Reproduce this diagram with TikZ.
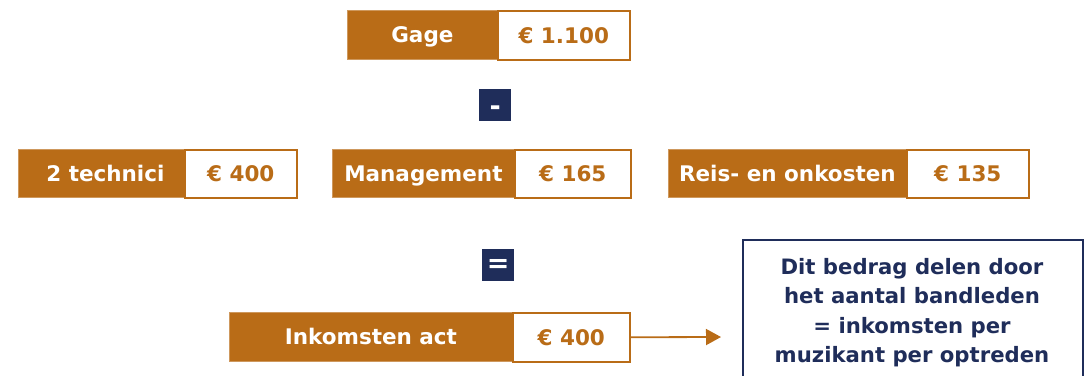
\documentclass[tikz,border=0pt]{standalone}
\usepackage{fontspec}
\setmainfont{DejaVu Sans}
\usetikzlibrary{arrows.meta}
\definecolor{orng}{HTML}{B96C17}
\definecolor{navy}{HTML}{1F2D5A}
\tikzset{
  boxfont/.style={font=\bfseries\fontsize{21.5}{26}\selectfont, text height=16pt, text depth=0pt},
  lbl/.style={rectangle, fill=orng, draw=orng!70!white, line width=0.8pt, anchor=north west, inner sep=0pt,
    text=white, boxfont},
  val/.style={rectangle, fill=white, draw=orng, line width=1.5pt, anchor=north west, inner sep=0pt,
    text=orng, boxfont},
  op/.style={rectangle, fill=navy, anchor=north west, inner sep=0pt, minimum width=32pt, minimum height=32pt},
  opsign/.style={text=white, font=\bfseries\fontsize{27}{30}\selectfont, inner sep=0pt},
  arr/.style={draw=orng, line width=1.8pt, -{Triangle[length=15pt,width=16pt]}},
}
\begin{document}
\begin{tikzpicture}[x=1pt,y=1pt]
\useasboundingbox (0,0) rectangle (1086,-375);
\begin{scope}
\clip (0,0) rectangle (1086,-375);
% row 1
\node[lbl, minimum width=150pt, minimum height=49pt] (gage) at (347,-10) {Gage};
\node[val, minimum width=132pt, minimum height=49pt] (gagev) at (497,-10) {€ 1.100};
% minus
\node[op] (minus) at (479,-89) {};
\node[opsign] (minussign) at ([yshift=-5pt]minus.center) {-};
% row 2
\node[lbl, minimum width=166pt, minimum height=48pt] (tech) at (18,-149) {\hspace*{8pt}2 technici};
\node[val, minimum width=112pt, minimum height=48pt] (techv) at (184,-149) {€ 400};
\node[lbl, minimum width=182pt, minimum height=48pt] (man) at (332,-149) {Management};
\node[val, minimum width=116pt, minimum height=48pt] (manv) at (514,-149) {€ 165};
\node[lbl, minimum width=238pt, minimum height=48pt] (reis) at (668,-149) {Reis- en onkosten};
\node[val, minimum width=122pt, minimum height=48pt] (reisv) at (906,-149) {€ 135};
% equals
\node[op] (eq) at (482,-249) {};
\node[opsign] (eqsign) at ([yshift=-1pt]eq.center) {=};
% result
\node[lbl, minimum width=283pt, minimum height=49pt] (ink) at (229,-312) {Inkomsten act};
\node[val, minimum width=117pt, minimum height=49pt] (inkv) at (512,-312) {€ 400};
% info box
\node[rectangle, draw=navy, line width=1.5pt, fill=white, anchor=north west, minimum width=340pt, minimum height=160pt, inner sep=0pt] (info) at (742,-239) {};
\node[align=center, text=navy, font=\bfseries\fontsize{21.2}{29.5}\selectfont, anchor=north, inner sep=0pt] (infotxt) at (912,-258)
  {Dit bedrag delen door\\het aantal bandleden\\= inkomsten per\\muzikant per optreden};
\coordinate (tip) at (721,-337);
\draw[arr] (inkv.east) -- (tip);
\end{scope}
\end{tikzpicture}
\end{document}
